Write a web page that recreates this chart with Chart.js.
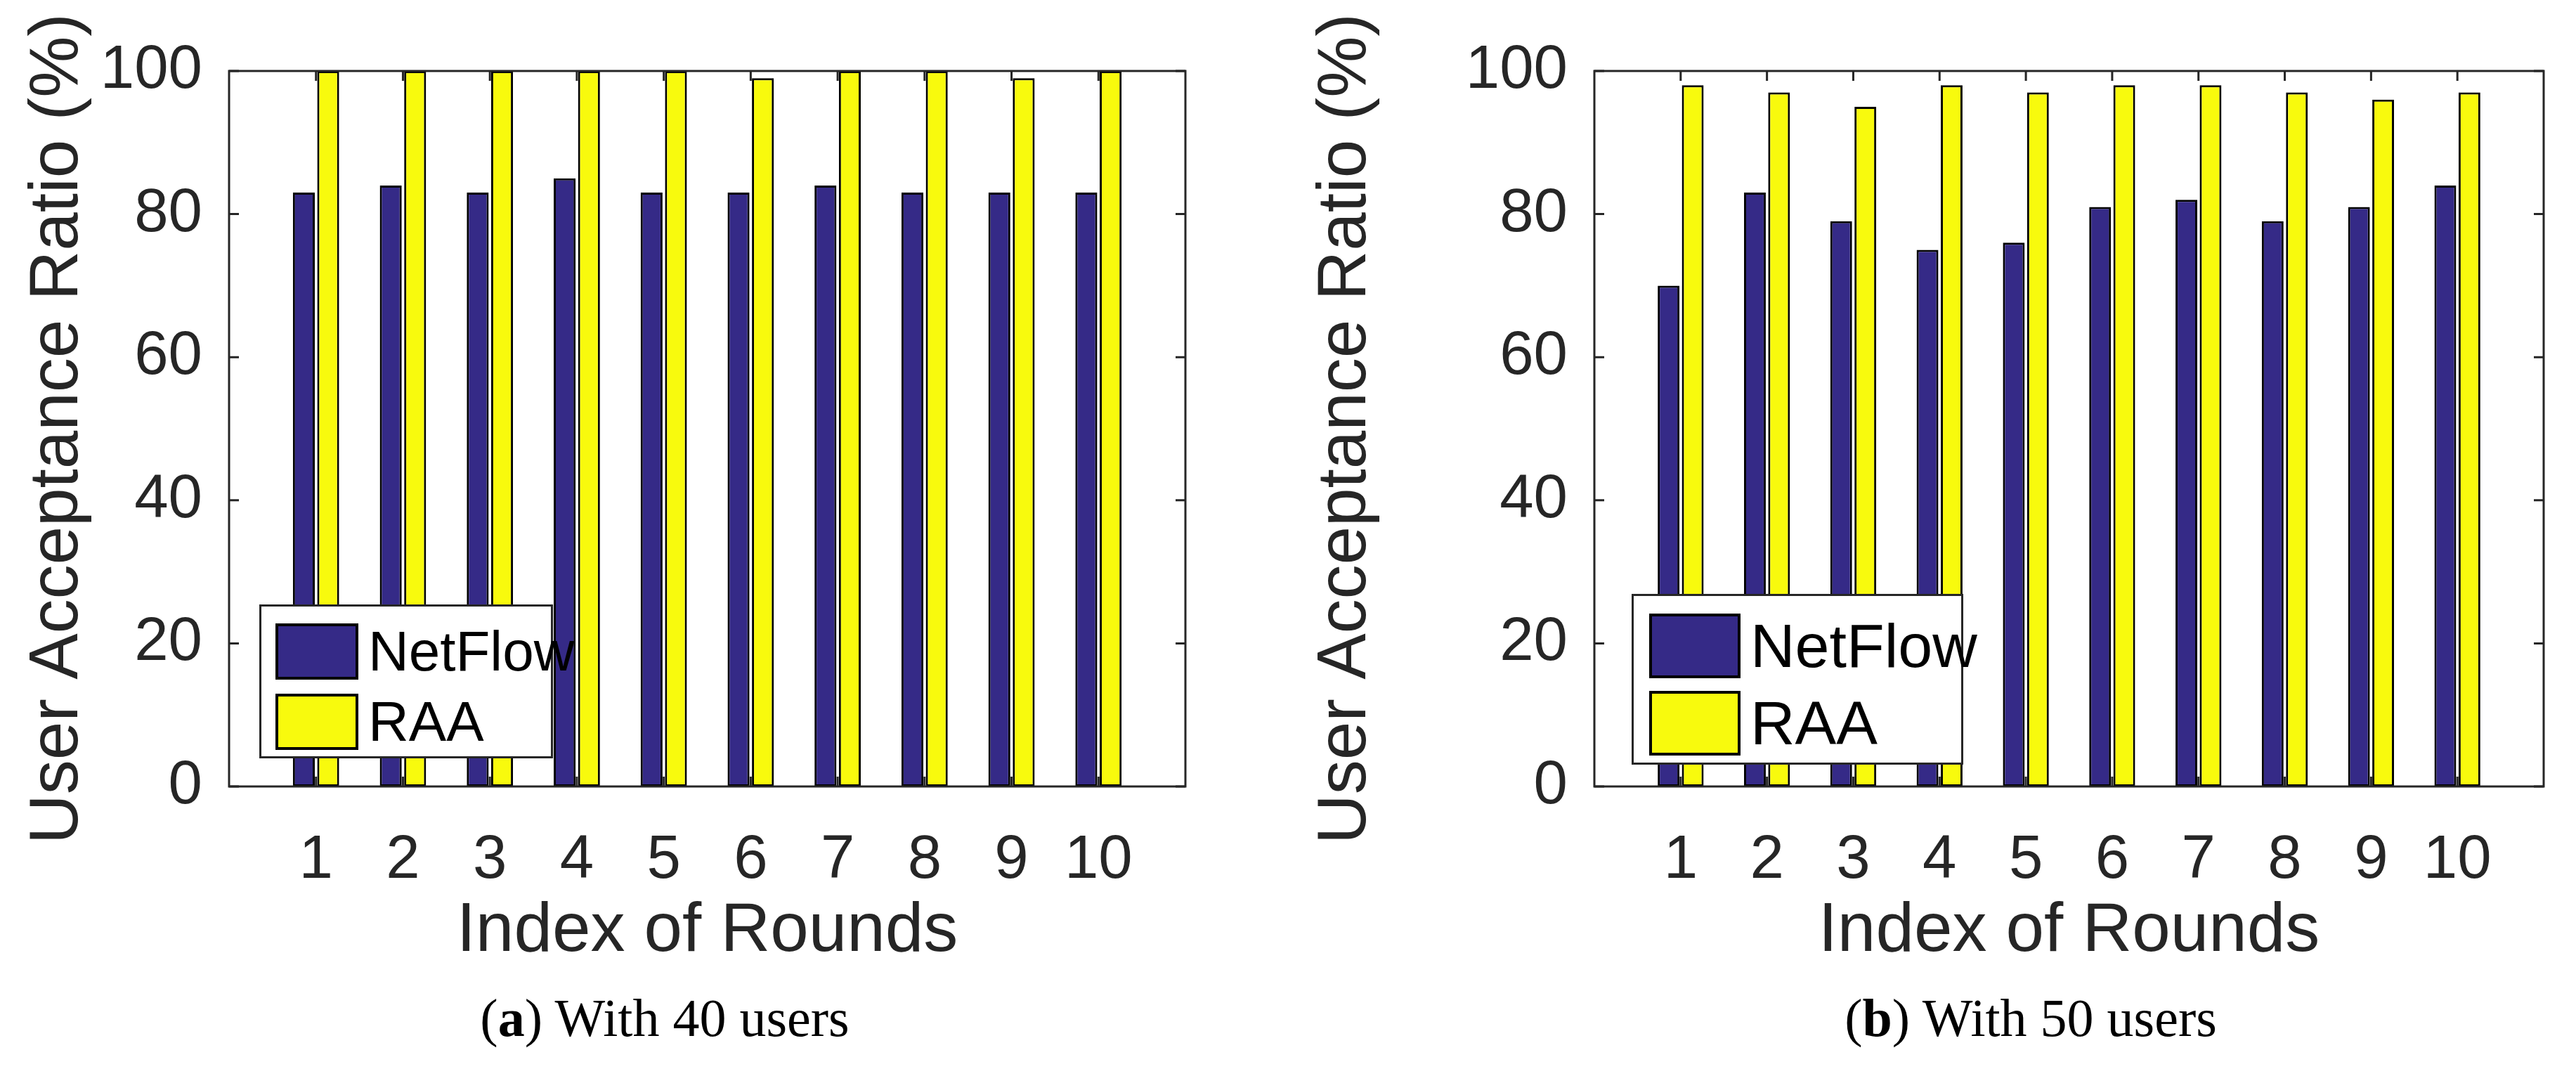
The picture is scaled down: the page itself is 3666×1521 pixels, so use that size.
<!DOCTYPE html>
<html>
<head>
<meta charset="utf-8">
<script src="https://cdn.jsdelivr.net/npm/chart.js@4"></script>
<style>
  body { margin: 0; background: #fff; width: 3666px; height: 1521px; position: relative; overflow: hidden; }
  .panel { position: absolute; top: 0; width: 1833px; height: 1521px; }
  .legend { position: absolute; background: #fff; border: 3px solid #262626; box-sizing: border-box; font-family: "Liberation Sans", Arial, sans-serif; color: #000; }
  .row { position: absolute; display: flex; align-items: center; }
  .sw { border: 4px solid #000; box-sizing: border-box; }
  .caption { position: absolute; font-family: "Liberation Serif", serif; font-size: 76px; color: #000; transform: translateX(-50%); white-space: nowrap; }
</style>
</head>
<body>
<div class="panel" style="left:0"><canvas id="chartA"></canvas></div>
<div class="panel" style="left:1833px"><canvas id="chartB"></canvas></div>

<div class="legend" style="left:369px;top:860px;width:418px;height:219px">
  <div class="row" style="left:20px;top:18px"><div class="sw" style="width:118px;height:80px;background:#352A87"></div><span style="font-size:80px;margin-left:14px">NetFlow</span></div>
  <div class="row" style="left:20px;top:118px"><div class="sw" style="width:118px;height:80px;background:#F8FA0D"></div><span style="font-size:80px;margin-left:14px">RAA</span></div>
</div>
<div class="legend" style="left:2322px;top:845px;width:472px;height:243px">
  <div class="row" style="left:22px;top:20px"><div class="sw" style="width:130px;height:92px;background:#352A87"></div><span style="font-size:88px;margin-left:14px">NetFlow</span></div>
  <div class="row" style="left:22px;top:130px"><div class="sw" style="width:130px;height:92px;background:#F8FA0D"></div><span style="font-size:88px;margin-left:14px">RAA</span></div>
</div>

<div class="caption" style="left:946px;top:1405px">(<b>a</b>) With 40 users</div>
<div class="caption" style="left:2890px;top:1405px">(<b>b</b>) With 50 users</div>

<script>
const rounds = ['1', '2', '3', '4', '5', '6', '7', '8', '9', '10'];
const netflow40 = [83, 84, 83, 85, 83, 83, 84, 83, 83, 83];
const raa40 = [100, 100, 100, 100, 100, 99, 100, 100, 99, 100];
const netflow50 = [70, 83, 79, 75, 76, 81, 82, 79, 81, 84];
const raa50 = [98, 97, 95, 98, 97, 98, 98, 97, 96, 97];
const yTicks = [0, 20, 40, 60, 80, 100];

const ink = '#262626';
const font = 'Liberation Sans';

// pad the axis with an empty slot on each side, like the matlab figure (0..11)
const pad = arr => [null, ...arr, null];

// box around plot + inward ticks on all four sides
const frame = {
  id: 'frame',
  afterDraw(chart) {
    const { ctx, chartArea: a, scales: { x, y } } = chart;
    ctx.save();
    ctx.strokeStyle = ink;
    ctx.lineWidth = 3;
    ctx.beginPath();
    yTicks.forEach(v => {
      const py = y.getPixelForValue(v);
      ctx.moveTo(a.left, py); ctx.lineTo(a.left + 14, py);
      ctx.moveTo(a.right, py); ctx.lineTo(a.right - 14, py);
    });
    rounds.forEach((r, i) => {
      const px = x.getPixelForValue(i + 1);
      ctx.moveTo(px, a.bottom); ctx.lineTo(px, a.bottom - 14);
      ctx.moveTo(px, a.top); ctx.lineTo(px, a.top + 14);
    });
    ctx.stroke();
    ctx.strokeRect(a.left, a.top, a.right - a.left, a.bottom - a.top);
    ctx.restore();
  }
};

function makeChart(id, netflow, raa, leftW) {
  const ctx = document.getElementById(id).getContext('2d');
  return new Chart(ctx, {
    type: 'bar',
    data: {
      labels: ['', ...rounds, ''],
      datasets: [
        { label: 'NetFlow', data: pad(netflow), backgroundColor: '#352A87', borderColor: '#000', borderWidth: 3, borderSkipped: false },
        { label: 'RAA', data: pad(raa), backgroundColor: '#F8FA0D', borderColor: '#000', borderWidth: 3, borderSkipped: false }
      ]
    },
    options: {
      responsive: false,
      animation: false,
      devicePixelRatio: 1,
      categoryPercentage: 0.56,
      barPercentage: 0.9,
      layout: { padding: { top: 101, right: 1833 - leftW - 1361, bottom: 136, left: 0 } },
      plugins: { legend: { display: false }, tooltip: { enabled: false } },
      scales: {
        x: {
          offset: false,
          grid: { display: false },
          border: { display: false },
          ticks: { color: ink, font: { family: font, size: 87 }, padding: 46, maxRotation: 0, autoSkip: false },
          title: { display: true, text: 'Index of Rounds', color: ink, font: { family: font, size: 98 }, padding: { top: 20, bottom: 0 } },
          afterFit: s => { s.height = 266; }
        },
        y: {
          min: 0, max: 100,
          grid: { display: false },
          border: { display: false },
          ticks: { stepSize: 20, color: ink, font: { family: font, size: 87 }, padding: 30 },
          title: { display: true, text: 'User Acceptance Ratio (%)', color: ink, font: { family: font, size: 98 }, padding: { top: 24, bottom: 0 } },
          afterFit: s => { s.width = leftW; }
        }
      }
    },
    plugins: [frame]
  });
}

[['chartA', 326], ['chartB', 2269 - 1833]].forEach(([id]) => {
  const c = document.getElementById(id);
  c.width = 1833; c.height = 1521;
  c.style.width = '1833px'; c.style.height = '1521px';
});

makeChart('chartA', netflow40, raa40, 326);
makeChart('chartB', netflow50, raa50, 2269 - 1833);
</script>
</body>
</html>
